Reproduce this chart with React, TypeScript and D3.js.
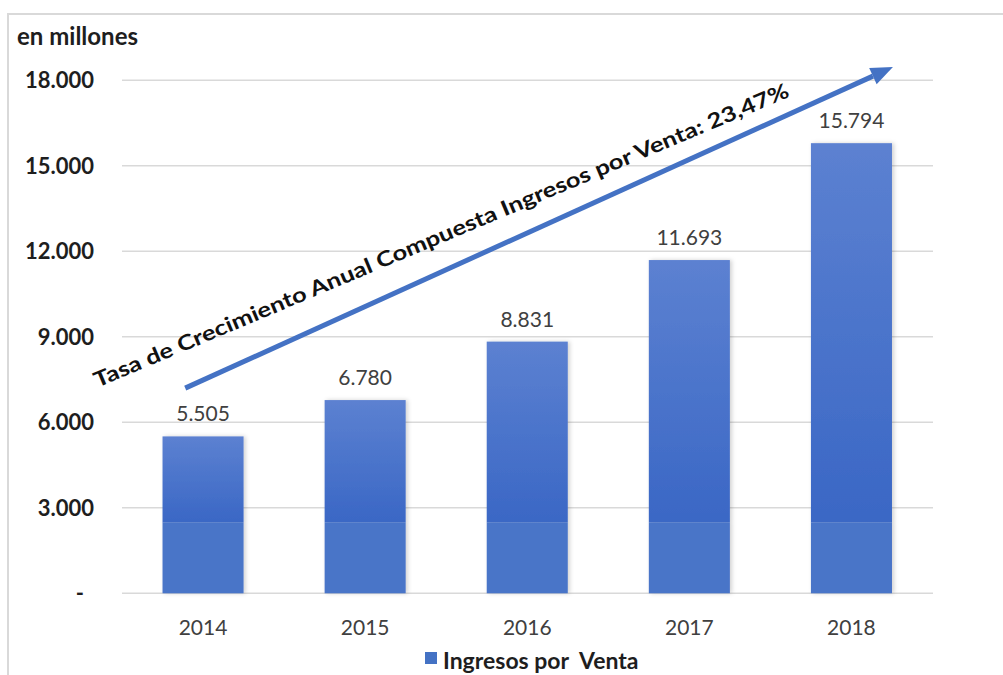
import React from "react";
import * as d3 from "d3";

const years: string[] = ["2014", "2015", "2016", "2017", "2018"];
const ingresos: number[] = [5505, 6780, 8831, 11693, 15794];
const yTicks: number[] = [0, 3000, 6000, 9000, 12000, 15000, 18000];
const unitLabel = "en millones";
const seriesName = "Ingresos por  Venta";
const arrowLabel = "Tasa de Crecimiento Anual Compuesta Ingresos por Venta: 23,47%";
// arrow annotation anchored in data space (offset in category steps)
const arrowFrom = { cat: "2014", offset: -0.11, value: 7200 };
const arrowTo = { cat: "2018", offset: 0.256, value: 18466 };

const W = 1003;
const H = 675;
const FONT = "Lato, 'Open Sans', sans-serif";

const fmt = (v: number) => (v === 0 ? "-" : d3.format(",")(v).replace(/,/g, "."));

export default function App() {
  const x = d3.scaleBand<string>().domain(years).range([122, 932.5]).paddingInner(0.5).paddingOuter(0.25);
  const y = d3.scaleLinear().domain([0, 18000]).range([593.3, 80.3]);
  const bw = x.bandwidth();
  const bandY = 522.7;

  const ax = (c: string, off: number) => (x(c) as number) + bw / 2 + off * x.step();
  const x1 = ax(arrowFrom.cat, arrowFrom.offset);
  const y1 = y(arrowFrom.value);
  const x2 = ax(arrowTo.cat, arrowTo.offset);
  const y2 = y(arrowTo.value);
  const ang = Math.atan2(y2 - y1, x2 - x1);
  const headLen = 22;
  const headW = 9;
  const bx = x2 - headLen * Math.cos(ang);
  const by = y2 - headLen * Math.sin(ang);
  const px = -Math.sin(ang);
  const py = Math.cos(ang);
  const head = `M${x2},${y2} L${bx + px * headW},${by + py * headW} L${bx - px * headW},${by - py * headW} Z`;

  const textAngle = -22.8;
  const tcx = 444;
  const tcy = 242;

  return (
    <svg
      width={W}
      height={H}
      style={{ position: "absolute", left: 0, top: 0, background: "#fff" }}
      fontFamily={FONT}
    >
      <defs>
        <linearGradient id="barGrad" x1="0" y1="0" x2="0" y2="1">
          <stop offset="0" stopColor="#5c81d1" />
          <stop offset="1" stopColor="#3a67c5" />
        </linearGradient>
        <filter id="shadow" x="-10%" y="-10%" width="130%" height="120%">
          <feDropShadow dx="2" dy="0" stdDeviation="2" floodColor="#000" floodOpacity="0.18" />
        </filter>
      </defs>
      <rect x={0} y={0} width={W} height={H} fill="#fff" />
      {/* frame */}
      <path d={`M8,${H + 5} L8,14 L${W + 5},14`} fill="none" stroke="#d9d9d9" strokeWidth={2} />

      {/* gridlines */}
      {yTicks.map((t) => (
        <line key={t} x1={122} x2={933} y1={y(t)} y2={y(t)} stroke="#d9d9d9" strokeWidth={1.5} />
      ))}

      {/* y tick labels */}
      {yTicks.map((t) => (
        <text
          key={t}
          x={t === 0 ? 84 : 94}
          y={y(t)}
          dy="0.36em"
          textAnchor="end"
          fontSize={22}
          fontWeight={700}
          fill="#1e1e1e"
        >
          {fmt(t)}
        </text>
      ))}

      <text x={17} y={45} fontSize={24} fontWeight={700} fill="#1e1e1e">
        {unitLabel}
      </text>

      {/* bars */}
      {years.map((yr, i) => {
        const top = y(ingresos[i]);
        const bx0 = x(yr) as number;
        return (
          <g key={yr} filter="url(#shadow)">
            <rect x={bx0} y={top} width={bw} height={bandY - top} fill="url(#barGrad)" />
            <rect x={bx0} y={bandY} width={bw} height={y(0) - bandY} fill="#4a74c8" />
          </g>
        );
      })}

      {/* data labels */}
      {years.map((yr, i) => (
        <text
          key={yr}
          x={(x(yr) as number) + bw / 2}
          y={y(ingresos[i]) - 15}
          textAnchor="middle"
          fontSize={21}
          fill="#404040"
        >
          {fmt(ingresos[i])}
        </text>
      ))}

      {/* x tick labels */}
      {years.map((yr) => (
        <text
          key={yr}
          x={(x(yr) as number) + bw / 2}
          y={635}
          textAnchor="middle"
          fontSize={21}
          fill="#404040"
        >
          {yr}
        </text>
      ))}

      {/* arrow */}
      <line x1={x1} y1={y1} x2={bx} y2={by} stroke="#4472c4" strokeWidth={5} />
      <path d={head} fill="#4472c4" />
      <text
        transform={`translate(${tcx},${tcy}) rotate(${textAngle})`}
        textAnchor="middle"
        fontSize={21}
        fontWeight={700}
        fill="#111"
        textLength={752}
        lengthAdjust="spacingAndGlyphs"
      >
        {arrowLabel}
      </text>

      {/* legend */}
      <rect x={425} y={652} width={12} height={12} fill="#4472c4" />
      <text x={443} y={669} fontSize={23} fontWeight={700} fill="#1e1e1e" style={{ whiteSpace: "pre" }}>
        {seriesName}
      </text>
    </svg>
  );
}
